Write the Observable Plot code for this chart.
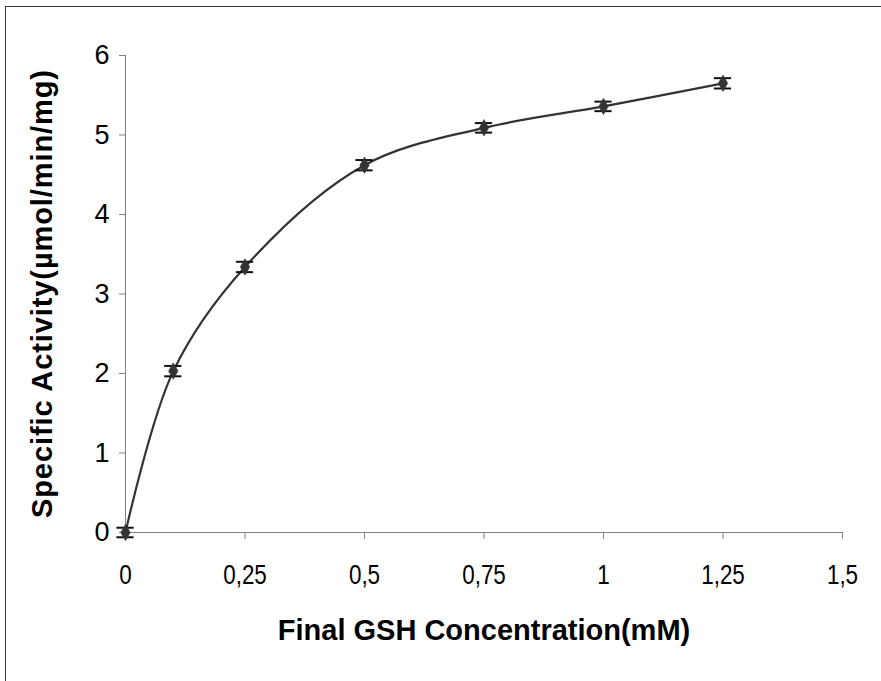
<!DOCTYPE html>
<html>
<head>
<meta charset="utf-8">
<script src="https://cdn.jsdelivr.net/npm/d3@7"></script>
<script src="https://cdn.jsdelivr.net/npm/@observablehq/plot@0.6"></script>
<style>
  html, body { margin: 0; padding: 0; background: #fff; }
  #wrap { position: relative; width: 881px; height: 681px; overflow: hidden; }
  #frame { position: absolute; left: 5px; top: 6px; width: 900px; height: 700px; border: 1.5px solid #3a3a3a; box-sizing: border-box; }
  #chart { position: absolute; left: 0; top: 0; }
</style>
</head>
<body>
<div id="wrap"><div id="frame"></div><div id="chart"></div></div>
<script>
const concentration = [0, 0.1, 0.25, 0.5, 0.75, 1, 1.25];
const activity = [0, 2.03, 3.34, 4.62, 5.09, 5.36, 5.65];
const errors = [0.06, 0.065, 0.065, 0.065, 0.06, 0.06, 0.065];
const xTicks = [0, 0.25, 0.5, 0.75, 1, 1.25, 1.5];
const yTicks = [0, 1, 2, 3, 4, 5, 6];
const xTitle = "Final GSH Concentration(mM)";
const yTitle = "Specific Activity(\u00b5mol/min/mg)";

const data = concentration.map((c, i) => ({x: c, y: activity[i], e: errors[i]}));
const capHalf = 0.018;
const fmt = v => String(v).replace(".", ",");

const plot = Plot.plot({
  width: 881,
  height: 681,
  marginLeft: 125,
  marginRight: 39,
  marginTop: 55,
  marginBottom: 149,
  style: {fontFamily: "'Liberation Sans', Arial, sans-serif", background: "transparent", overflow: "visible"},
  x: {domain: [0, 1.5]},
  y: {domain: [0, 6]},
  marks: [
    Plot.ruleX([0], {stroke: "#808080", strokeWidth: 1}),
    Plot.ruleY([0], {stroke: "#808080", strokeWidth: 1}),
    Plot.axisX({ticks: xTicks, tickFormat: fmt, tickSize: 7, tickPadding: 25, stroke: "#808080", fontSize: 28, fill: "#000", label: null, className: "xticks"}),
    Plot.axisY({ticks: yTicks, tickFormat: d => String(d), tickSize: 6, tickPadding: 10, stroke: "#808080", fontSize: 27, fill: "#000", label: null}),
    Plot.line(data, {x: "x", y: "y", curve: "catmull-rom", stroke: "#333", strokeWidth: 2.2}),
    Plot.ruleX(data, {x: "x", y1: d => d.y - d.e, y2: d => d.y + d.e, stroke: "#111", strokeWidth: 1.5}),
    Plot.ruleY(data, {y: d => d.y - d.e, x1: d => d.x - capHalf, x2: d => d.x + capHalf, stroke: "#111", strokeWidth: 2}),
    Plot.ruleY(data, {y: d => d.y + d.e, x1: d => d.x - capHalf, x2: d => d.x + capHalf, stroke: "#111", strokeWidth: 2}),
    Plot.dot(data, {x: "x", y: "y", symbol: "diamond", r: 5, fill: "#333", stroke: "#333", strokeWidth: 0.5}),
    Plot.text([xTitle], {frameAnchor: "bottom", dy: 98, text: d => d, fontSize: 29, fontWeight: "bold", fill: "#000", lineAnchor: "middle", textAnchor: "middle", className: "xtitle"}),
    Plot.text([yTitle], {frameAnchor: "left", dx: -83, text: d => d, fontSize: 29, fontWeight: "bold", fill: "#000", rotate: -90, lineAnchor: "middle", textAnchor: "middle", className: "ytitle"})
  ]
});
document.getElementById("chart").appendChild(plot);

// condensed look of the x tick labels
plot.querySelectorAll("g.xticks text").forEach(t => {
  const L = t.getComputedTextLength();
  t.setAttribute("textLength", (L * 0.8).toFixed(1));
  t.setAttribute("lengthAdjust", "spacingAndGlyphs");
});
// slightly spaced y title, as in the reference
plot.querySelectorAll("g.ytitle text").forEach(t => {
  t.setAttribute("textLength", "448");
  t.setAttribute("lengthAdjust", "spacing");
});
</script>
</body>
</html>
